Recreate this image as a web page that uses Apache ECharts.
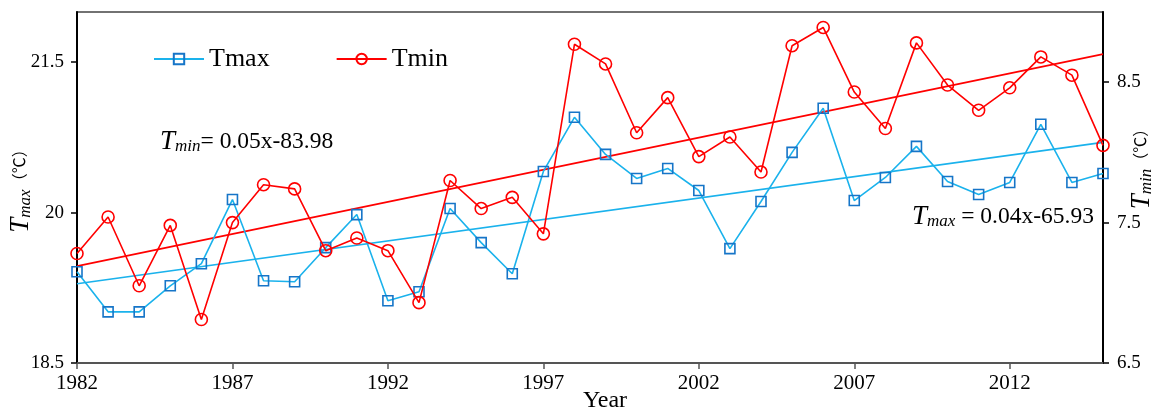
<!DOCTYPE html>
<html>
<head>
<meta charset="utf-8">
<script src="https://cdn.jsdelivr.net/npm/echarts@6/dist/echarts.min.js"></script>
<style>
html, body { margin: 0; padding: 0; background: #fff; }
#main { width: 1162px; height: 412px; }
</style>
</head>
<body>
<div id="main"></div>
<script>
var years = ['1982', '1983', '1984', '1985', '1986', '1987', '1988', '1989', '1990', '1991',
    '1992', '1993', '1994', '1995', '1996', '1997', '1998', '1999', '2000', '2001',
    '2002', '2003', '2004', '2005', '2006', '2007', '2008', '2009', '2010', '2011',
    '2012', '2013', '2014', '2015'];
var tmax = [19.41, 19.01, 19.01, 19.27, 19.49, 20.13, 19.32, 19.31, 19.65, 19.98,
    19.12, 19.21, 20.04, 19.70, 19.39, 20.41, 20.95, 20.58, 20.34, 20.44,
    20.22, 19.64, 20.11, 20.60, 21.04, 20.12, 20.35, 20.66, 20.31, 20.18,
    20.30, 20.88, 20.30, 20.39];
var tmin = [7.28, 7.54, 7.05, 7.48, 6.81, 7.50, 7.77, 7.74, 7.30, 7.39,
    7.30, 6.93, 7.80, 7.60, 7.68, 7.42, 8.77, 8.63, 8.14, 8.39,
    7.97, 8.11, 7.86, 8.76, 8.89, 8.43, 8.17, 8.78, 8.48, 8.30,
    8.46, 8.68, 8.55, 8.05];
// trend line ends (first and last year)
var tmaxTrend = [19.29, 20.70];
var tminTrend = [7.19, 8.70];
var leftTicks = [18.5, 20, 21.5];
var rightTicks = [6.5, 7.5, 8.5];

var blue = '#1ab2ec';
var blueMark = '#1675c8';
var red = '#ff0000';
var serif = "'Liberation Serif', 'Times New Roman', serif";

var myChart = echarts.init(document.getElementById('main'));

function trendData(ends) {
    return [[years[0], ends[0]], [years[years.length - 1], ends[1]]];
}

var sub = function (color) {
    return {
        T: { fontFamily: serif, fontStyle: 'italic', fontSize: 27, color: color, verticalAlign: 'middle' },
        s: { fontFamily: serif, fontStyle: 'italic', fontSize: 17, color: color, verticalAlign: 'bottom' },
        n: { fontFamily: serif, fontSize: 23.5, color: color, verticalAlign: 'middle' },
        u: { fontFamily: serif + ", 'Noto Sans CJK SC'", fontSize: 16, color: color, verticalAlign: 'middle' }
    };
};

option = {
    animation: false,
    backgroundColor: '#fff',
    grid: {
        left: 77, right: 59, top: 12, bottom: 49,
        outerBoundsMode: 'none',
        containLabel: false,
        show: true,
        borderColor: '#444',
        borderWidth: 1.5
    },
    legend: {
        data: ['Tmax', 'Tmin'],
        left: 148,
        top: 41,
        itemWidth: 50,
        itemHeight: 13,
        itemGap: 66,
        textStyle: { fontFamily: serif, fontSize: 26, color: '#000' }
    },
    xAxis: {
        type: 'category',
        data: years,
        boundaryGap: false,
        axisLine: { lineStyle: { color: '#555', width: 2 } },
        axisTick: { interval: 4, length: 6, lineStyle: { color: '#555', width: 1.5 } },
        axisLabel: { interval: 4, margin: 10, fontFamily: serif, fontSize: 21, color: '#000' },
        splitLine: { show: false }
    },
    yAxis: [{
        type: 'value',
        min: 18.5,
        max: 22,
        position: 'left',
        axisLine: { show: true, lineStyle: { color: '#000', width: 2 } },
        axisTick: { show: true, customValues: leftTicks, length: 6, lineStyle: { color: '#000', width: 1.5 } },
        axisLabel: { customValues: leftTicks, margin: 13, fontFamily: serif, fontSize: 19, color: '#000' },
        splitLine: { show: false }
    }, {
        type: 'value',
        min: 6.5,
        max: 9,
        position: 'right',
        axisLine: { show: true, lineStyle: { color: '#000', width: 2 } },
        axisTick: { show: true, customValues: rightTicks, length: 6, lineStyle: { color: '#000', width: 1.5 } },
        axisLabel: { customValues: rightTicks, margin: 14, fontFamily: serif, fontSize: 19, color: '#000' },
        splitLine: { show: false }
    }],
    graphic: [{
        type: 'text',
        x: 605, y: 401,
        style: {
            text: 'Year',
            font: '24px ' + serif,
            fill: '#000',
            align: 'center',
            verticalAlign: 'middle'
        }
    }, {
        type: 'text',
        x: 21, y: 187,
        rotation: Math.PI / 2,
        style: {
            text: '{T|T}{s|max}{u|（℃）}',
            rich: sub('#000'),
            align: 'center',
            verticalAlign: 'middle'
        }
    }, {
        type: 'text',
        x: 1142, y: 165,
        rotation: Math.PI / 2,
        style: {
            text: '{T|T}{s|min}{u|（℃）}',
            rich: sub('#000'),
            align: 'center',
            verticalAlign: 'middle'
        }
    }, {
        type: 'text',
        left: 160, top: 128,
        style: {
            text: '{T|T}{s|min}{n|= 0.05x-83.98}',
            rich: sub(red)
        }
    }, {
        type: 'text',
        left: 912, top: 203,
        style: {
            text: '{T|T}{s|max}{n| = 0.04x-65.93}',
            rich: sub('#1ec3f2')
        }
    }],
    series: [{
        name: 'Tmax',
        type: 'line',
        yAxisIndex: 0,
        data: tmax,
        symbol: 'rect',
        symbolSize: 10,
        lineStyle: { color: blue, width: 1.6 },
        itemStyle: { color: 'rgba(255,255,255,0)', borderColor: blueMark, borderWidth: 1.6 },
        z: 3
    }, {
        name: 'Tmin',
        type: 'line',
        yAxisIndex: 1,
        data: tmin,
        symbol: 'circle',
        symbolSize: 12,
        lineStyle: { color: red, width: 1.6 },
        itemStyle: { color: 'rgba(255,255,255,0)', borderColor: red, borderWidth: 1.6 },
        z: 4
    }, {
        name: 'Tmax trend',
        type: 'line',
        yAxisIndex: 0,
        data: trendData(tmaxTrend),
        symbol: 'none',
        silent: true,
        lineStyle: { color: blue, width: 1.6 },
        z: 2
    }, {
        name: 'Tmin trend',
        type: 'line',
        yAxisIndex: 1,
        data: trendData(tminTrend),
        symbol: 'none',
        silent: true,
        lineStyle: { color: red, width: 1.6 },
        z: 2
    }]
};
myChart.setOption(option);
</script>
</body>
</html>
